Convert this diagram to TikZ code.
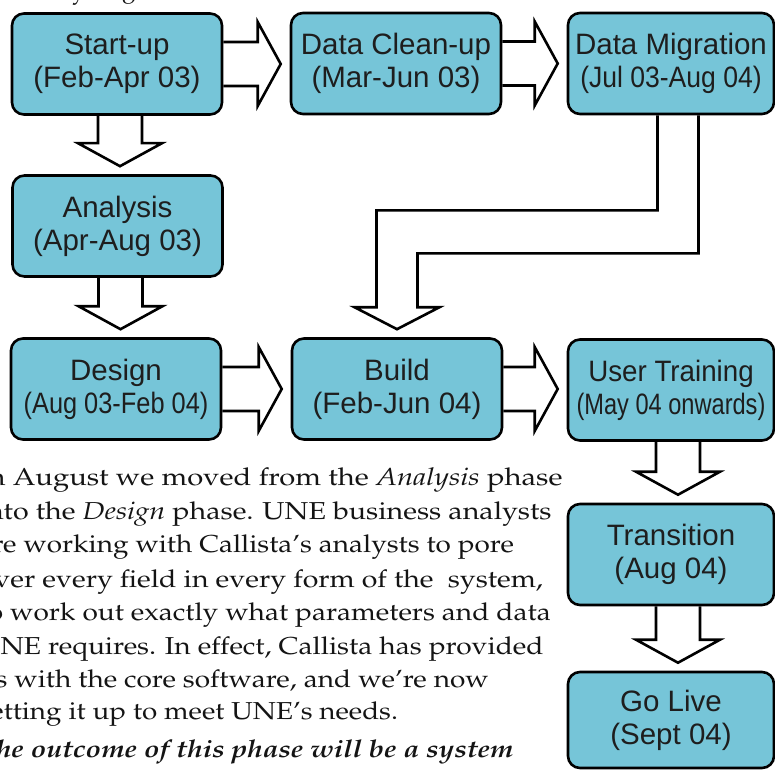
\documentclass[tikz,border=0pt]{standalone}
\usepackage[T1]{fontenc}
\usepackage{fontspec}
\usepackage{graphicx}
\usetikzlibrary{calc,backgrounds}
\setsansfont{Liberation Sans}
\definecolor{boxfill}{RGB}{118,197,216}
\definecolor{boxtext}{RGB}{30,30,30}
\definecolor{bodytext}{RGB}{20,20,20}
\newcommand\palfont{\fontencoding{T1}\fontfamily{ppl}\fontsize{24.5}{34}\selectfont}
\newcommand\wide[2]{\scalebox{#1}[1]{#2}}
\tikzset{
  phase/.style={draw=black, line width=2.6pt, fill=boxfill, rounded corners=12pt,
    minimum width=210pt, minimum height=101pt, align=center, inner sep=0pt,
    font=\sffamily\fontsize{29.5}{33}\selectfont, text=boxtext},
  barrow/.style={draw=black, line width=2.6pt, fill=white, line join=miter},
  body/.style={anchor=base west, inner sep=0pt, font=\palfont, text=bodytext}
}
\newcommand\harrow[2]{\draw[barrow] let \p1=(#1.east), \p2=(#2.west) in
  (\x1,\y1+22pt) -- (\x2-32pt,\y1+22pt) -- (\x2-32pt,\y1+42pt) -- (\x2-9pt,\y1)
  -- (\x2-32pt,\y1-42pt) -- (\x2-32pt,\y1-22pt) -- (\x1,\y1-22pt);}
\newcommand\varrow[3]{\draw[barrow] let \p1=(#2.south), \p2=(#3.north) in
  (\x1+#1-22pt,\y1) -- (\x1+#1-22pt,\y2+31pt) -- (\x1+#1-42pt,\y2+31pt) -- (\x1+#1,\y2+8pt)
  -- (\x1+#1+42pt,\y2+31pt) -- (\x1+#1+22pt,\y2+31pt) -- (\x1+#1+22pt,\y1);}
\begin{document}
\begin{tikzpicture}[x=1pt,y=-1pt]
\useasboundingbox (0,0) rectangle (775,770);
\clip (0,0) rectangle (775,770);
% phases
\node[phase] (start) at (117,64) {Start-up\\(Feb-Apr 03)};
\node[phase] (clean) at (396,63.5) {Data Clean-up\\(Mar-Jun 03)};
\node[phase, minimum width=206pt] (mig) at (671,63.5) {Data Migration\\\wide{0.9}{(Jul 03-Aug 04)}};
\node[phase] (anal) at (117.5,226) {Analysis\\(Apr-Aug 03)};
\node[phase] (design) at (116,389) {Design\\\wide{0.86}{(Aug 03-Feb 04)}};
\node[phase] (build) at (397,389) {Build\\(Feb-Jun 04)};
\node[phase, minimum width=206pt] (user) at (671,390) {\wide{0.94}{User Training}\\\wide{0.8}{(May 04 onwards)}};
\node[phase, minimum width=206pt] (trans) at (671,554.5) {Transition\\(Aug 04)};
\node[phase, minimum width=206pt, minimum height=96pt] (live) at (671,720) {Go Live\\(Sept 04)};
% block arrows
\begin{scope}[on background layer]
\harrow{start}{clean}
\harrow{clean}{mig}
\harrow{design}{build}
\harrow{build}{user}
\varrow{3pt}{start}{anal}
\varrow{3pt}{anal}{design}
\varrow{7pt}{user}{trans}
\varrow{7pt}{trans}{live}
\draw[barrow] let \p1=(mig.south), \p2=(build.north) in
  (\x1-13.5pt,\y1) -- (\x1-13.5pt,\y1-95pt) -- (\x2-20.5pt,\y1-95pt) -- (\x2-20.5pt,\y2+30pt)
  -- (\x2-42.5pt,\y2+30pt) -- (\x2,\y2+8pt) -- (\x2+42.5pt,\y2+30pt) -- (\x2+20.5pt,\y2+30pt)
  -- (\x2+20.5pt,\y1-138pt) -- (\x1+27.5pt,\y1-138pt) -- (\x1+27.5pt,\y1);
\end{scope}
% text fragments
\node[body] (frag1) at (72,-1) {y};
\node[body] (frag2) at (122,-2) {g};
\node[body] (p1) at (-21.5,485) {\wide{1.19}{In August we moved from the \textit{Analysis} phase}};
\node[body] (p2) at (-21.5,519) {\wide{1.168}{into the \textit{Design} phase. UNE business analysts}};
\node[body] (p3) at (-21.5,552) {\wide{1.14}{are working with Callista's analysts to pore}};
\node[body] (p4) at (-21.5,587) {\wide{1.163}{over every field in every form of the\ \ system,}};
\node[body] (p5) at (-21.5,620) {\wide{1.145}{to work out exactly what parameters and data}};
\node[body] (p6) at (-21.5,654) {\wide{1.148}{UNE requires. In effect, Callista has provided}};
\node[body] (p7) at (-21.5,687) {\wide{1.143}{us with the core software, and we're now}};
\node[body] (p8) at (-21.5,719) {\wide{1.134}{setting it up to meet UNE's needs.}};
\node[body, font=\palfont\bfseries\itshape] (p9) at (-21.5,757) {\wide{1.147}{The outcome of this phase will be a system}};
\end{tikzpicture}
\end{document}
